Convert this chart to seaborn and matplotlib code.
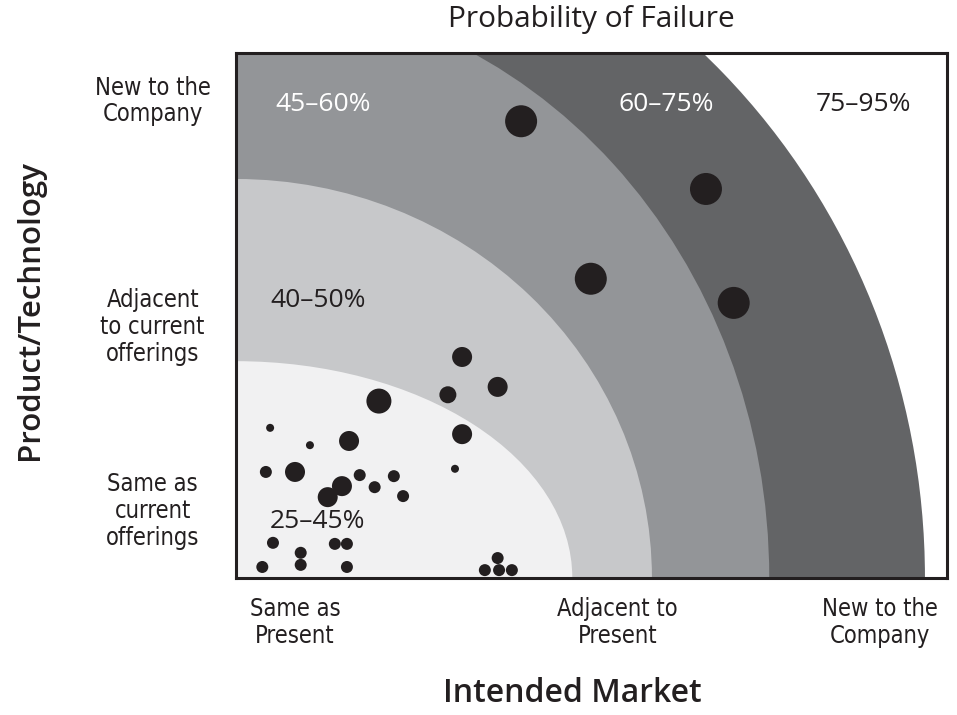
import matplotlib
matplotlib.use("Agg")
import matplotlib.pyplot as plt
from matplotlib.patches import Ellipse
import seaborn as sns
import pandas as pd

# probability bands, outermost first (radii along market / product axes)
band_labels = ["60–75%", "45–60%", "40–50%", "25–45%"]
band_rx = [96.9, 75.0, 58.5, 47.3]
band_ry = [136.0, 111.6, 76.0, 41.3]
band_colors = ["#636466", "#939598", "#c7c8ca", "#f1f1f2"]

# projects: market newness (x), product newness (y), bubble size class
market = [40.1, 66.1, 49.9, 70.0, 20.1,
          31.8, 36.8, 31.8, 15.9, 8.3, 14.9, 12.9, 29.8,
          4.8, 10.4, 30.8,
          4.2, 17.4, 19.5, 22.2, 23.5, 5.2, 9.1, 9.1, 13.9, 15.6, 3.7, 15.6,
          36.8, 35.0, 37.0, 38.8]
product = [87.0, 74.1, 57.0, 52.4, 33.7,
           42.1, 36.4, 27.4, 26.1, 20.2, 17.5, 15.4, 34.9,
           28.6, 25.3, 20.8,
           20.2, 19.6, 17.3, 19.4, 15.6, 6.7, 4.8, 2.5, 6.5, 6.5, 2.1, 2.1,
           3.8, 1.5, 1.5, 1.5]
size_class = [6, 6, 6, 6, 5,
              4, 4, 4, 4, 4, 4, 4, 3,
              1, 1, 1,
              2, 2, 2, 2, 2, 2, 2, 2, 2, 2, 2, 2,
              2, 2, 2, 2]

x_ticks = [8.3, 53.7, 90.6]
x_tick_labels = ["Same as\nPresent", "Adjacent to\nPresent", "New to the\nCompany"]
y_ticks = [13.5, 48.6, 91.6]
y_tick_labels = ["Same as\ncurrent\nofferings", "Adjacent\nto current\nofferings", "New to the\nCompany"]

# region labels: text, x, y, colour
region_text = ["45–60%", "60–75%", "75–95%", "40–50%", "25–45%"]
region_x = [12.2, 60.5, 88.2, 11.5, 11.5]
region_y = [90.1, 90.1, 90.1, 52.8, 10.7]
region_color = ["white", "white", "#231f20", "#231f20", "#231f20"]

sns.set_style("white")
plt.rcParams['font.family'] = ['Open Sans', 'DejaVu Sans']

fig = plt.figure(figsize=(9.57, 7.15), dpi=100)
ax = fig.add_axes([236 / 957, (715 - 578) / 715, 711 / 957, 525 / 715])

for rx, ry, c in zip(band_rx, band_ry, band_colors):
    ax.add_patch(Ellipse((0, 0), 2 * rx, 2 * ry, facecolor=c, edgecolor="none", zorder=1))

df = pd.DataFrame({"market": market, "product": product, "size": size_class})
px = 0.72  # pixel -> point
size_map = {1: (8 * px) ** 2, 2: (12 * px) ** 2, 3: (17 * px) ** 2,
            4: (20 * px) ** 2, 5: (25 * px) ** 2, 6: (32 * px) ** 2}
sns.scatterplot(data=df, x="market", y="product", size="size", sizes=size_map,
                color="#231f20", edgecolor="none", legend=False, ax=ax, zorder=3)

for t, x, y, c in zip(region_text, region_x, region_y, region_color):
    ax.text(x, y, t, color=c, fontsize=19, ha="center", va="center", zorder=4)

ax.set_xlim(0, 100)
ax.set_ylim(0, 100)
ax.set_xlabel("")
ax.set_ylabel("")

narrow = dict(fontsize=17, family=['DejaVu Sans'], fontstretch='condensed',
              color="#231f20", linespacing=1.15)
ax.set_xticks(x_ticks)
ax.set_xticklabels(x_tick_labels, **narrow)
ax.set_yticks(y_ticks)
ax.set_yticklabels(y_tick_labels, ha="center", **narrow)
ax.tick_params(axis="x", length=0, pad=14)
ax.tick_params(axis="y", length=0, pad=60)

for s in ax.spines.values():
    s.set_color("#231f20")
    s.set_linewidth(2.2)
    s.set_zorder(5)

fig.text(591 / 957, 1 - 20 / 715, "Probability of Failure", fontsize=21.5,
         ha="center", va="center", color="#231f20")
fig.text(572 / 957, 1 - 693 / 715, "Intended Market", fontsize=23,
         fontweight="semibold", ha="center", va="center", color="#231f20")
fig.text(30 / 957, 1 - 310 / 715, "Product/Technology", fontsize=22.5,
         fontweight="semibold", rotation=90, ha="center", va="center", color="#231f20")

plt.savefig("out.png", dpi=100)
plt.close()
